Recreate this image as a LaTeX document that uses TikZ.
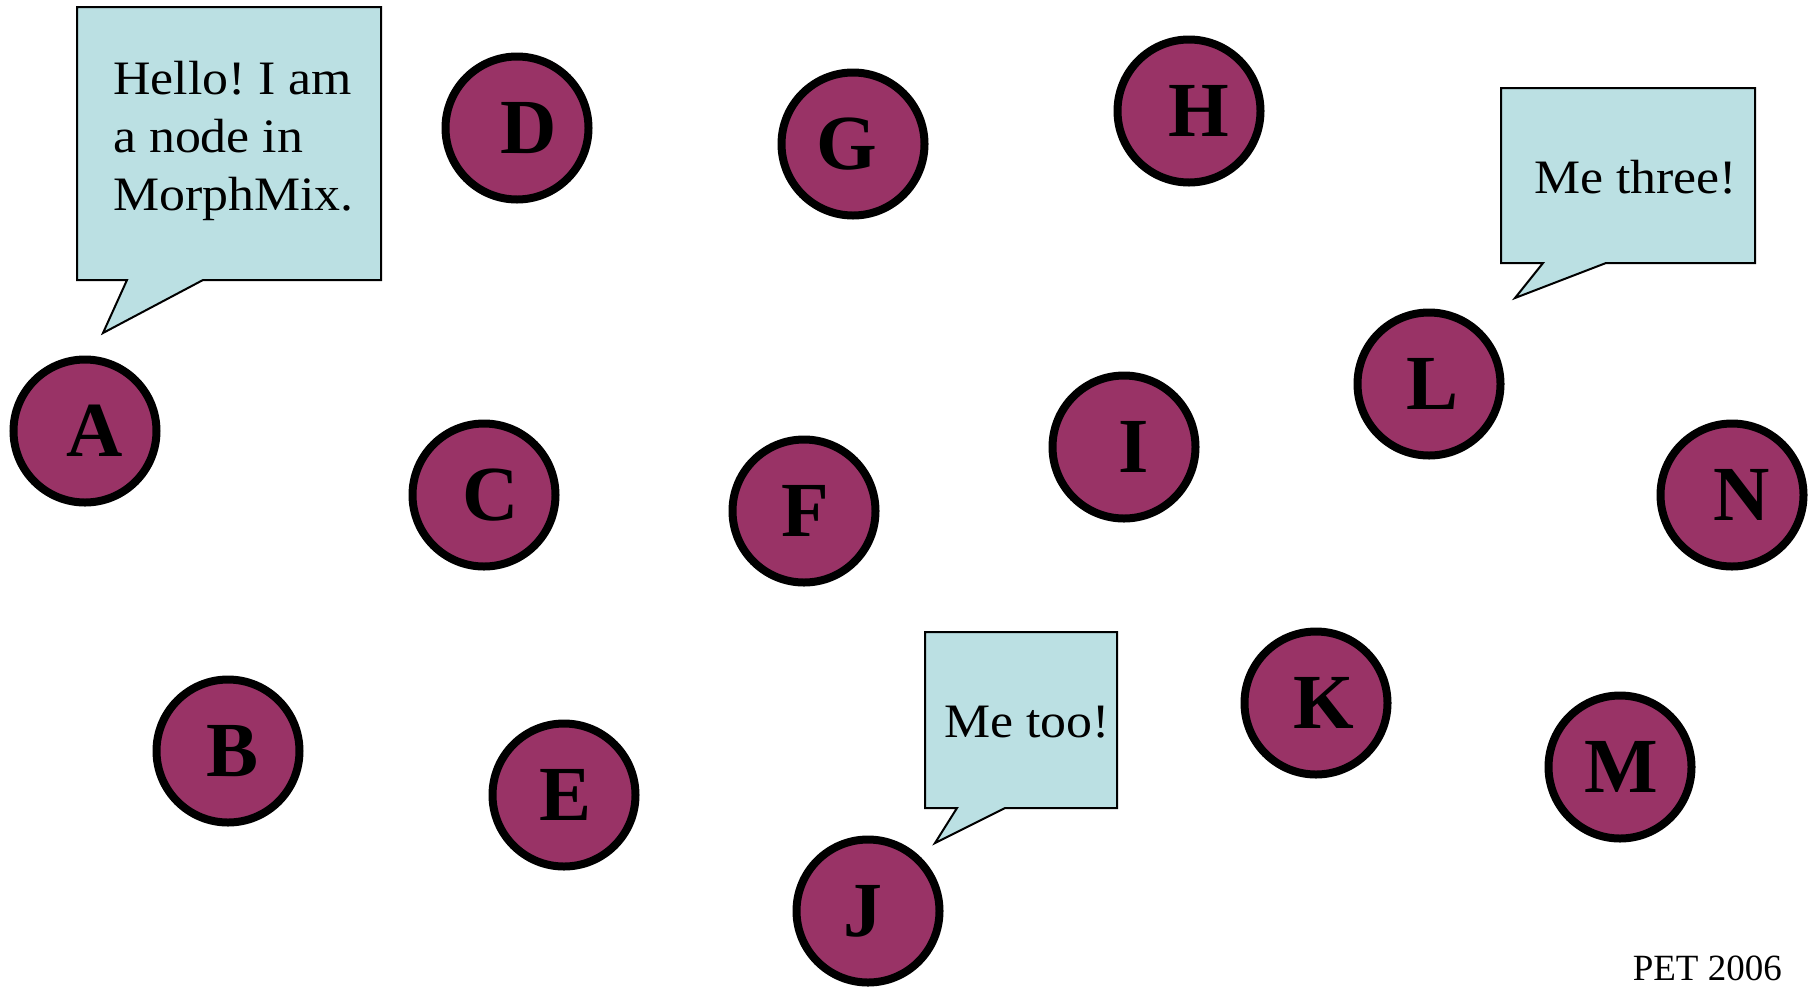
\documentclass[tikz,border=0pt]{standalone}
\usepackage{fontspec}
\setmainfont{Liberation Serif}
\newfontfamily\bubblefont[FakeStretch=1.08]{Liberation Serif}
\frenchspacing
\definecolor{peer}{HTML}{993366}
\definecolor{bubble}{HTML}{BBE0E3}
\tikzset{
  peer/.style={circle, fill=peer, draw=black, line width=8pt, minimum size=143pt,
    inner sep=0pt},
  letter/.style={inner sep=0pt, font=\fontsize{78}{78}\selectfont\bfseries},
  bubble/.style={fill=bubble, draw=black, line width=2pt, line join=miter},
  say/.style={anchor=base west, inner sep=0pt, align=left,
    font=\bubblefont\fontsize{48}{58}\selectfont},
}
% a peer: name, position, letter offset
\newcommand\peernode[3]{%
  \node[peer] (#1) at (#2) {};
  \node[letter, xshift=#3pt] (#1-label) at (#1) {#1};}
\begin{document}
\begin{tikzpicture}[x=1pt,y=-1pt]
\useasboundingbox (0,0) rectangle (1817,989);

% speech bubbles
\draw[bubble] (77,7) -- (381,7) -- (381,280) -- (203,280) -- (103,333) -- (127,280) -- (77,280) -- cycle;
\node[say] (hello) at (113,210) {Hello! I am\\a node in\\MorphMix.};

\draw[bubble] (925,632) -- (1117,632) -- (1117,808) -- (1005,808) -- (935,843) -- (957,808) -- (925,808) -- cycle;
\node[say] (metoo) at (944,737) {Me too!};

\draw[bubble] (1501,88) -- (1755,88) -- (1755,263) -- (1606,263) -- (1515,298) -- (1543,263) -- (1501,263) -- cycle;
\node[say] (methree) at (1534,193) {Me three!};

% peers
\peernode{A}{85,431}{10}
\peernode{B}{228,751}{5}
\peernode{C}{484,495}{7}
\peernode{D}{517,128}{12}
\peernode{E}{564,795}{2}
\peernode{F}{804,511}{1}
\peernode{G}{853,144}{-6}
\peernode{H}{1189,111}{10}
\peernode{I}{1124,447}{10}
\peernode{J}{868,911}{-5}
\peernode{K}{1316,703}{8}
\peernode{L}{1429,384}{3}
\peernode{M}{1620,767}{1}
\peernode{N}{1732,495}{10}

% footer
\node[anchor=base east, inner sep=0pt, font=\fontsize{37}{37}\selectfont] (pet) at (1782,980) {PET 2006};
\end{tikzpicture}
\end{document}
